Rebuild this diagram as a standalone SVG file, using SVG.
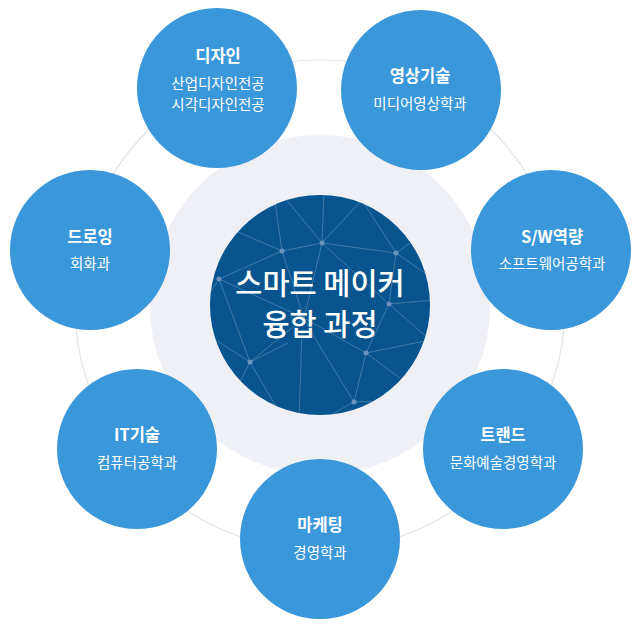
<svg xmlns="http://www.w3.org/2000/svg" width="640" height="629" viewBox="0 0 640 629">
  <style>
    .node { fill: #3a97d9; }
    .t { font-family: "Noto Sans CJK KR", "Noto Sans", sans-serif; fill: #ffffff; text-anchor: middle; }
    .title { font-size: 16.5px; font-weight: bold; }
    .sub { font-size: 14.5px; font-weight: normal; }
    .big { font-size: 29.5px; font-weight: 500; }
    .net line { stroke: #ffffff; stroke-opacity: 0.22; stroke-width: 1; }
    .net circle { fill: #6a94bd; }
  </style>
  <defs>
    <clipPath id="core">
      <circle cx="320" cy="305" r="110"/>
    </clipPath>
  </defs>
  <rect width="640" height="629" fill="#ffffff"/>
  <g id="connectors">
    <circle cx="320" cy="305" r="245" fill="none" stroke="#e2e3e6" stroke-width="1.2"/>
  </g>
  <g id="center">
    <circle cx="320" cy="305" r="170" fill="#eff0f6"/>
    <circle cx="320" cy="305" r="110" fill="#08548f"/>
    <g class="net" clip-path="url(#core)">
      <line x1="282" y1="251" x2="322" y2="243"/>
      <line x1="322" y1="243" x2="396" y2="253"/>
      <line x1="322" y1="243" x2="324" y2="190"/>
      <line x1="322" y1="243" x2="362" y2="200"/>
      <line x1="362" y1="200" x2="396" y2="253"/>
      <line x1="285" y1="198" x2="322" y2="243"/>
      <line x1="282" y1="251" x2="274" y2="195"/>
      <line x1="238" y1="232" x2="282" y2="251"/>
      <line x1="282" y1="251" x2="219" y2="279"/>
      <line x1="219" y1="279" x2="205" y2="300"/>
      <line x1="219" y1="279" x2="250" y2="362"/>
      <line x1="282" y1="251" x2="304" y2="318"/>
      <line x1="322" y1="243" x2="304" y2="318"/>
      <line x1="304" y1="318" x2="250" y2="362"/>
      <line x1="219" y1="279" x2="304" y2="318"/>
      <line x1="396" y1="253" x2="440" y2="222"/>
      <line x1="396" y1="253" x2="389" y2="304"/>
      <line x1="396" y1="253" x2="435" y2="280"/>
      <line x1="389" y1="304" x2="435" y2="300"/>
      <line x1="389" y1="304" x2="366" y2="353"/>
      <line x1="389" y1="304" x2="430" y2="340"/>
      <line x1="322" y1="243" x2="389" y2="304"/>
      <line x1="304" y1="318" x2="366" y2="353"/>
      <line x1="366" y1="353" x2="430" y2="340"/>
      <line x1="366" y1="353" x2="354" y2="402"/>
      <line x1="366" y1="353" x2="400" y2="378"/>
      <line x1="316" y1="340" x2="354" y2="402"/>
      <line x1="304" y1="318" x2="316" y2="340"/>
      <line x1="302" y1="330" x2="299" y2="420"/>
      <line x1="354" y1="402" x2="430" y2="400"/>
      <line x1="354" y1="402" x2="325" y2="418"/>
      <line x1="250" y1="362" x2="208" y2="335"/>
      <line x1="250" y1="362" x2="236" y2="390"/>
      <line x1="250" y1="362" x2="278" y2="410"/>
      <line x1="250" y1="362" x2="288" y2="343"/>
    </g>
    <g class="net">
      <circle cx="282" cy="251" r="2.5"/>
      <circle cx="322" cy="243" r="2.5"/>
      <circle cx="396" cy="253" r="2.5"/>
      <circle cx="219" cy="279" r="2.5"/>
      <circle cx="389" cy="304" r="2.5"/>
      <circle cx="366" cy="353" r="2.5"/>
      <circle cx="250" cy="362" r="2.5"/>
      <circle cx="354" cy="402" r="2.5"/>
    </g>
    <text class="t big" x="320" y="294">스마트 메이커</text>
    <text class="t big" x="320" y="335">융합 과정</text>
  </g>
  <g id="design">
    <circle class="node" cx="217" cy="88" r="80"/>
    <text class="t title" x="218" y="62">디자인</text>
    <text class="t sub" x="218" y="89">산업디자인전공</text>
    <text class="t sub" x="218" y="110">시각디자인전공</text>
  </g>
  <g id="video">
    <circle class="node" cx="421" cy="90" r="80"/>
    <text class="t title" x="420" y="82">영상기술</text>
    <text class="t sub" x="420" y="109">미디어영상학과</text>
  </g>
  <g id="drawing">
    <circle class="node" cx="90" cy="250" r="80"/>
    <text class="t title" x="90" y="243">드로잉</text>
    <text class="t sub" x="90" y="269">회화과</text>
  </g>
  <g id="sw">
    <circle class="node" cx="551" cy="250" r="80"/>
    <text class="t title" x="552" y="243">S/W역량</text>
    <text class="t sub" x="552" y="269">소프트웨어공학과</text>
  </g>
  <g id="it">
    <circle class="node" cx="137" cy="449" r="80"/>
    <text class="t title" x="137" y="441">IT기술</text>
    <text class="t sub" x="137" y="468">컴퓨터공학과</text>
  </g>
  <g id="trend">
    <circle class="node" cx="503" cy="449" r="80"/>
    <text class="t title" x="503" y="441">트랜드</text>
    <text class="t sub" x="503" y="468">문화예술경영학과</text>
  </g>
  <g id="marketing">
    <circle class="node" cx="320" cy="539" r="80"/>
    <text class="t title" x="320" y="531">마케팅</text>
    <text class="t sub" x="320" y="558">경영학과</text>
  </g>
</svg>
